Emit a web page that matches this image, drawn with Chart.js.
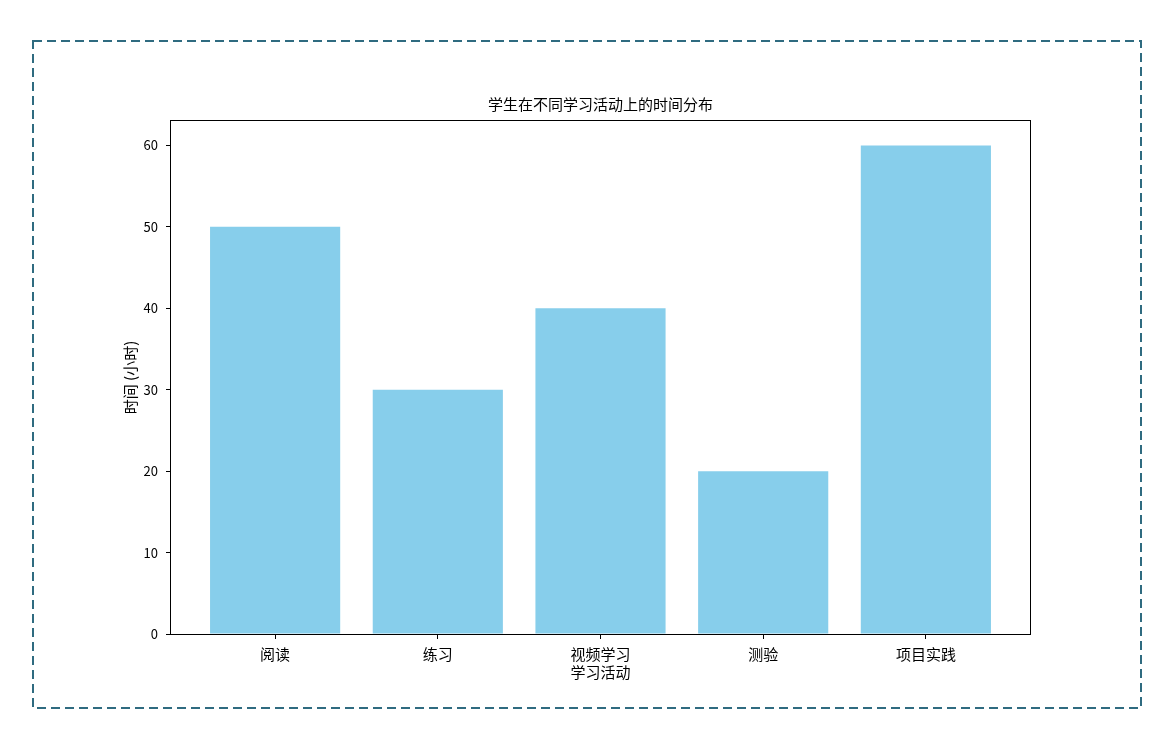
<!DOCTYPE html>
<html lang="zh">
<head>
<meta charset="utf-8">
<title>学生在不同学习活动上的时间分布</title>
<script src="https://cdn.jsdelivr.net/npm/chart.js@4.4.0/dist/chart.umd.min.js"></script>
<style>
  html, body { margin: 0; padding: 0; background: #ffffff; }
  #wrap { width: 1162px; height: 731px; }
  canvas { display: block; }
</style>
</head>
<body>
<div id="wrap"><canvas id="chart" width="1162" height="731"></canvas></div>
<script>
// Learning activities and hours spent on each
const categories = ['阅读', '练习', '视频学习', '测验', '项目实践'];
const hours = [50, 30, 40, 20, 60];
const yTicks = [0, 10, 20, 30, 40, 50, 60];

const chartTitle = '学生在不同学习活动上的时间分布';
const xTitle = '学习活动';
const yTitle = '时间 (小时)';

const cjk = '"Noto Sans CJK SC", "Noto Sans", sans-serif';

// Title centred over the plot area, axis spines on top/right, and the dashed outer frame
const framePlugin = {
  id: 'frame',
  afterDatasetsDraw(chart) {
    const { ctx, chartArea: a } = chart;
    ctx.save();
    ctx.strokeStyle = '#000000';
    ctx.lineWidth = 1;
    ctx.strokeRect(a.left - 0.5, a.top - 0.5, a.right - a.left + 1, a.bottom - a.top + 1);
    ctx.restore();
  },
  afterDraw(chart) {
    const { ctx, chartArea: a } = chart;
    ctx.save();
    ctx.fillStyle = '#000000';
    ctx.font = '15px ' + cjk;
    ctx.textAlign = 'center';
    ctx.textBaseline = 'middle';
    ctx.fillText(chartTitle, (a.left + a.right) / 2, a.top - 17);

    ctx.strokeStyle = '#2f6b80';
    ctx.lineWidth = 2;
    ctx.setLineDash([9, 5]);
    ctx.strokeRect(33, 41, 1108, 667);
    ctx.restore();
  }
};

const bg = {
  id: 'bg',
  beforeDraw(chart) {
    const ctx = chart.ctx;
    ctx.save();
    ctx.fillStyle = '#ffffff';
    ctx.fillRect(0, 0, chart.width, chart.height);
    ctx.restore();
  }
};

new Chart(document.getElementById('chart'), {
  type: 'bar',
  data: {
    datasets: [{
      data: hours.map((v, i) => ({ x: i, y: v })),
      backgroundColor: '#87CEEB',
      borderWidth: 0,
      barPercentage: 0.8,
      categoryPercentage: 1.0
    }]
  },
  options: {
    responsive: false,
    animation: false,
    devicePixelRatio: 1,
    layout: { padding: { left: 100, right: 132, top: 121, bottom: 47 } },
    plugins: {
      legend: { display: false },
      tooltip: { enabled: false },
      title: { display: false }
    },
    scales: {
      x: {
        type: 'linear',
        min: -0.64,
        max: 4.64,
        offset: false,
        afterBuildTicks(scale) {
          scale.ticks = categories.map((_, i) => ({ value: i }));
        },
        afterFit(scale) { scale.height = 50; },
        ticks: {
          color: '#000000',
          font: { family: cjk, size: 15 },
          padding: 6,
          maxRotation: 0,
          autoSkip: false,
          callback: (v) => categories[v]
        },
        grid: {
          display: true,
          offset: false,
          drawOnChartArea: false,
          drawTicks: true,
          tickLength: 5,
          tickColor: '#000000',
          tickWidth: 1
        },
        border: { display: false },
        title: {
          display: true,
          text: xTitle,
          color: '#000000',
          font: { family: cjk, size: 15, lineHeight: 1.2 },
          padding: { top: 0, bottom: 3 }
        }
      },
      y: {
        type: 'linear',
        min: 0,
        max: 63,
        afterBuildTicks(scale) {
          scale.ticks = yTicks.map(v => ({ value: v }));
        },
        afterFit(scale) { scale.width = 71; },
        ticks: {
          color: '#000000',
          font: { family: cjk, size: 13 },
          padding: 8
        },
        grid: {
          display: true,
          drawOnChartArea: false,
          drawTicks: true,
          tickLength: 5,
          tickColor: '#000000',
          tickWidth: 1
        },
        border: { display: false },
        title: {
          display: true,
          text: yTitle,
          color: '#000000',
          font: { family: cjk, size: 15, lineHeight: 1.2 },
          padding: { top: 21, bottom: 0 }
        }
      }
    }
  },
  plugins: [bg, framePlugin]
});
</script>
</body>
</html>
